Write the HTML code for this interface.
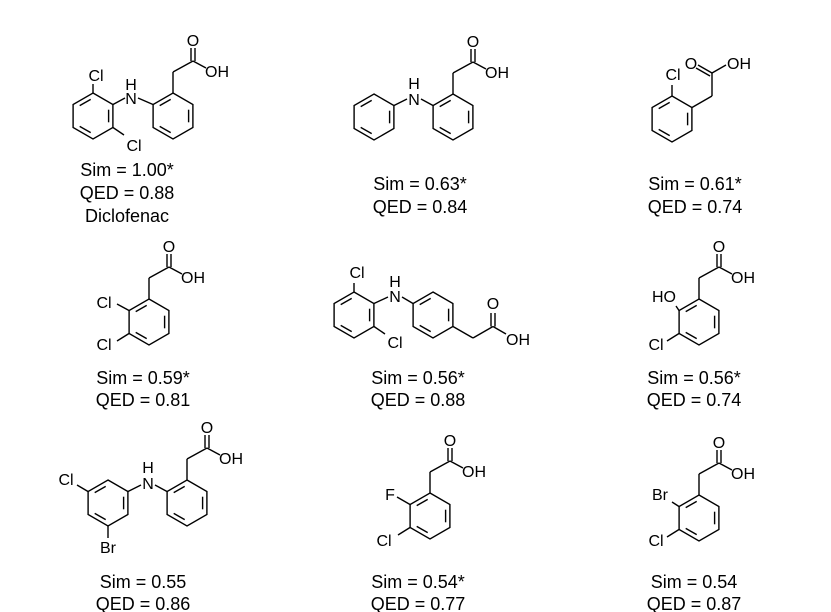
<!DOCTYPE html>
<html><head><meta charset="utf-8"><style>
html,body{margin:0;padding:0;background:#fff;}
svg{display:block;}
.t{font-family:"Liberation Sans",Arial,sans-serif;font-size:18px;fill:#000;text-anchor:middle;}
.a{font-family:"Liberation Sans",Arial,sans-serif;font-size:16px;fill:#000;text-anchor:middle;}
</style></head><body>
<svg width="831" height="612" viewBox="0 0 831 612" xmlns="http://www.w3.org/2000/svg">
<defs>
<g id="r" fill="none" stroke="#000" stroke-width="1.4">
<polygon points="0,-23 19.9,-11.5 19.9,11.5 0,23 -19.9,11.5 -19.9,-11.5"/>
<line x1="15.6" y1="-6.3" x2="15.6" y2="6.3"/>
<line x1="-2.3" y1="16.6" x2="-13.3" y2="10.4"/>
<line x1="-13.3" y1="-10.4" x2="-2.3" y2="-16.6"/>
</g>
<g id="acid" fill="none" stroke="#000" stroke-width="1.4">
<line x1="0" y1="-23" x2="0" y2="-44"/>
<line x1="0" y1="-44" x2="20" y2="-55"/>
<line x1="18" y1="-55" x2="18" y2="-68"/>
<line x1="22" y1="-55" x2="22" y2="-68"/>
<line x1="20" y1="-55" x2="33" y2="-48"/>
</g>
</defs>

<!-- M1 Diclofenac -->
<use href="#r" x="93" y="116"/>
<use href="#r" x="173" y="116"/>
<use href="#acid" x="173" y="116"/>
<text class="a" x="193" y="46">O</text>
<text class="a" x="217" y="77">OH</text>
<g stroke="#000" stroke-width="1.4">
<line x1="113" y1="104.5" x2="125" y2="98"/>
<line x1="138" y1="98" x2="153" y2="104.5"/>
<line x1="93" y1="93" x2="93" y2="84"/>
<line x1="113" y1="127.5" x2="124" y2="135"/>
</g>
<text class="a" x="131" y="104">N</text>
<text class="a" x="131" y="90">H</text>
<text class="a" x="96" y="81">Cl</text>
<text class="a" x="134" y="151">Cl</text>
<text class="t" x="127" y="176">Sim = 1.00*</text>
<text class="t" x="127" y="199">QED = 0.88</text>
<text class="t" x="127" y="222">Diclofenac</text>

<!-- M2 -->
<use href="#r" x="374" y="117"/>
<use href="#r" x="453" y="117"/>
<use href="#acid" x="453" y="117"/>
<text class="a" x="473" y="47">O</text>
<text class="a" x="497" y="78">OH</text>
<g stroke="#000" stroke-width="1.4">
<line x1="394" y1="105.5" x2="407" y2="99"/>
<line x1="421" y1="99" x2="433" y2="105.5"/>
</g>
<text class="a" x="414" y="105">N</text>
<text class="a" x="414" y="89">H</text>
<text class="t" x="420" y="190">Sim = 0.63*</text>
<text class="t" x="420" y="213">QED = 0.84</text>

<!-- M3 -->
<use href="#r" x="672" y="119"/>
<g stroke="#000" stroke-width="1.4" fill="none">
<line x1="672" y1="96" x2="672" y2="85"/>
<line x1="692" y1="107.5" x2="712" y2="96"/>
<line x1="712" y1="96" x2="712" y2="73"/>
<line x1="712" y1="73" x2="698" y2="65"/>
<line x1="710" y1="76" x2="696" y2="68"/>
<line x1="712" y1="73" x2="726" y2="65"/>
</g>
<text class="a" x="673" y="80">Cl</text>
<text class="a" x="691" y="69">O</text>
<text class="a" x="739" y="69">OH</text>
<text class="t" x="695" y="190">Sim = 0.61*</text>
<text class="t" x="695" y="213">QED = 0.74</text>

<!-- M4 -->
<use href="#r" x="149" y="322"/>
<use href="#acid" x="149" y="322"/>
<text class="a" x="169" y="252">O</text>
<text class="a" x="193" y="283">OH</text>
<g stroke="#000" stroke-width="1.4">
<line x1="129" y1="310.5" x2="117" y2="304"/>
<line x1="129" y1="333.5" x2="117" y2="341"/>
</g>
<text class="a" x="104" y="308">Cl</text>
<text class="a" x="104" y="350">Cl</text>
<text class="t" x="143" y="384">Sim = 0.59*</text>
<text class="t" x="143" y="406">QED = 0.81</text>

<!-- M5 -->
<use href="#r" x="354" y="315"/>
<use href="#r" x="433" y="315"/>
<g stroke="#000" stroke-width="1.4" fill="none">
<line x1="354" y1="292" x2="354" y2="283"/>
<line x1="374" y1="303.5" x2="388" y2="297"/>
<line x1="402" y1="297" x2="413" y2="303.5"/>
<line x1="374" y1="326.5" x2="385" y2="334"/>
<line x1="453" y1="326.5" x2="473" y2="338"/>
<line x1="473" y1="338" x2="493" y2="326.5"/>
<line x1="491" y1="326.5" x2="491" y2="313"/>
<line x1="495" y1="326.5" x2="495" y2="313"/>
<line x1="493" y1="326.5" x2="506" y2="334"/>
</g>
<text class="a" x="395" y="302">N</text>
<text class="a" x="395" y="287">H</text>
<text class="a" x="357" y="278">Cl</text>
<text class="a" x="395" y="348">Cl</text>
<text class="a" x="493" y="309">O</text>
<text class="a" x="518" y="345">OH</text>
<text class="t" x="418" y="384">Sim = 0.56*</text>
<text class="t" x="418" y="406">QED = 0.88</text>

<!-- M6 -->
<use href="#r" x="699" y="322"/>
<use href="#acid" x="699" y="322"/>
<text class="a" x="719" y="252">O</text>
<text class="a" x="743" y="283">OH</text>
<g stroke="#000" stroke-width="1.4">
<line x1="679" y1="310.5" x2="676" y2="306"/>
<line x1="679" y1="333.5" x2="667" y2="341"/>
</g>
<text class="a" x="664" y="302">HO</text>
<text class="a" x="656" y="350">Cl</text>
<text class="t" x="694" y="384">Sim = 0.56*</text>
<text class="t" x="694" y="406">QED = 0.74</text>

<!-- M7 -->
<use href="#r" x="108" y="503"/>
<use href="#r" x="187" y="503"/>
<use href="#acid" x="187" y="503"/>
<text class="a" x="207" y="433">O</text>
<text class="a" x="231" y="464">OH</text>
<g stroke="#000" stroke-width="1.4">
<line x1="88" y1="491.5" x2="77" y2="485"/>
<line x1="108" y1="526" x2="108" y2="538"/>
<line x1="128" y1="491.5" x2="141" y2="485"/>
<line x1="155" y1="485" x2="167" y2="491.5"/>
</g>
<text class="a" x="66" y="485">Cl</text>
<text class="a" x="108" y="553">Br</text>
<text class="a" x="148" y="489">N</text>
<text class="a" x="148" y="473">H</text>
<text class="t" x="143" y="588">Sim = 0.55</text>
<text class="t" x="143" y="610">QED = 0.86</text>

<!-- M8 -->
<use href="#r" x="430" y="516"/>
<use href="#acid" x="430" y="516"/>
<text class="a" x="450" y="446">O</text>
<text class="a" x="474" y="477">OH</text>
<g stroke="#000" stroke-width="1.4">
<line x1="410" y1="504.5" x2="397" y2="497"/>
<line x1="410" y1="527.5" x2="398" y2="535"/>
</g>
<text class="a" x="390" y="500">F</text>
<text class="a" x="384" y="546">Cl</text>
<text class="t" x="418" y="588">Sim = 0.54*</text>
<text class="t" x="418" y="610">QED = 0.77</text>

<!-- M9 -->
<use href="#r" x="699" y="518"/>
<use href="#acid" x="699" y="518"/>
<text class="a" x="719" y="448">O</text>
<text class="a" x="743" y="479">OH</text>
<g stroke="#000" stroke-width="1.4">
<line x1="679" y1="506.5" x2="672" y2="502"/>
<line x1="679" y1="529.5" x2="667" y2="537"/>
</g>
<text class="a" x="660" y="500">Br</text>
<text class="a" x="656" y="546">Cl</text>
<text class="t" x="694" y="588">Sim = 0.54</text>
<text class="t" x="694" y="610">QED = 0.87</text>
</svg>
</body></html>
